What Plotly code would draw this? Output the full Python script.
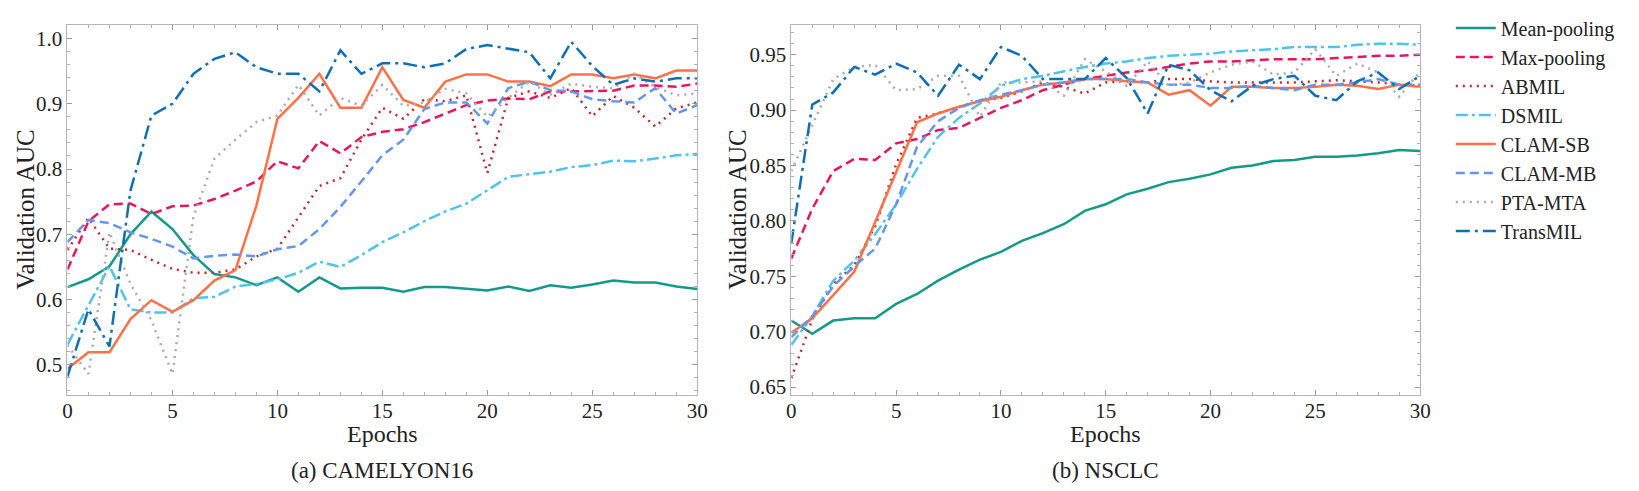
import plotly.graph_objects as go

epochs = list(range(31))

methods = ["Mean-pooling", "Max-pooling", "ABMIL", "DSMIL", "CLAM-SB", "CLAM-MB", "PTA-MTA", "TransMIL"]

# CAMELYON16 validation AUC
cam_mean = [0.619, 0.631, 0.651, 0.700, 0.735, 0.708, 0.668, 0.639, 0.634, 0.622, 0.634, 0.612, 0.634, 0.617, 0.618, 0.618,
            0.612, 0.619, 0.619, 0.616, 0.614, 0.620, 0.613, 0.622, 0.618, 0.623, 0.629, 0.626, 0.626, 0.620, 0.616]
cam_max = [0.646, 0.720, 0.746, 0.747, 0.731, 0.743, 0.744, 0.754, 0.767, 0.781, 0.812, 0.801, 0.843, 0.824, 0.849, 0.857,
           0.861, 0.872, 0.885, 0.898, 0.905, 0.908, 0.907, 0.919, 0.919, 0.920, 0.920, 0.928, 0.928, 0.926, 0.931]
cam_abmil = [0.676, 0.725, 0.678, 0.676, 0.661, 0.647, 0.641, 0.641, 0.646, 0.666, 0.678, 0.727, 0.774, 0.786, 0.845, 0.894,
             0.877, 0.907, 0.904, 0.913, 0.794, 0.909, 0.919, 0.909, 0.924, 0.881, 0.912, 0.894, 0.865, 0.893, 0.902]
cam_dsmil = [0.531, 0.590, 0.651, 0.585, 0.580, 0.580, 0.602, 0.604, 0.620, 0.624, 0.631, 0.641, 0.658, 0.650, 0.668, 0.688,
             0.703, 0.720, 0.735, 0.747, 0.768, 0.788, 0.792, 0.796, 0.803, 0.806, 0.813, 0.812, 0.816, 0.821, 0.823]
cam_clamsb = [0.494, 0.519, 0.519, 0.570, 0.599, 0.581, 0.599, 0.629, 0.645, 0.744, 0.877, 0.909, 0.946, 0.894, 0.894, 0.956,
              0.906, 0.894, 0.934, 0.945, 0.945, 0.934, 0.934, 0.927, 0.945, 0.945, 0.939, 0.945, 0.939, 0.951, 0.951]
cam_clammb = [0.688, 0.722, 0.717, 0.703, 0.693, 0.681, 0.663, 0.667, 0.669, 0.666, 0.677, 0.682, 0.708, 0.742, 0.781, 0.821,
              0.845, 0.892, 0.902, 0.902, 0.870, 0.924, 0.934, 0.921, 0.919, 0.907, 0.904, 0.902, 0.924, 0.885, 0.898]
cam_ptamta = [0.530, 0.486, 0.703, 0.624, 0.568, 0.486, 0.727, 0.816, 0.845, 0.872, 0.882, 0.929, 0.882, 0.909, 0.897, 0.929,
              0.897, 0.902, 0.923, 0.916, 0.880, 0.909, 0.934, 0.914, 0.931, 0.926, 0.924, 0.946, 0.926, 0.913, 0.916]
cam_transmil = [0.482, 0.585, 0.528, 0.767, 0.882, 0.900, 0.946, 0.969, 0.979, 0.956, 0.946, 0.946, 0.919, 0.982, 0.946, 0.962,
                0.962, 0.956, 0.962, 0.984, 0.990, 0.984, 0.979, 0.939, 0.995, 0.958, 0.929, 0.939, 0.934, 0.939, 0.939]

# NSCLC validation AUC
nsc_mean = [0.710, 0.698, 0.710, 0.712, 0.712, 0.725, 0.734, 0.746, 0.756, 0.765, 0.772, 0.782, 0.789, 0.797, 0.809, 0.815,
            0.824, 0.829, 0.835, 0.838, 0.842, 0.848, 0.850, 0.854, 0.855, 0.858, 0.858, 0.859, 0.861, 0.864, 0.863]
nsc_max = [0.766, 0.811, 0.845, 0.856, 0.855, 0.870, 0.874, 0.882, 0.884, 0.893, 0.902, 0.909, 0.918, 0.923, 0.928, 0.931,
           0.934, 0.936, 0.939, 0.942, 0.944, 0.944, 0.945, 0.946, 0.946, 0.946, 0.947, 0.948, 0.949, 0.949, 0.950]
nsc_abmil = [0.658, 0.711, 0.743, 0.760, 0.795, 0.851, 0.893, 0.897, 0.903, 0.908, 0.911, 0.917, 0.925, 0.921, 0.915, 0.925,
             0.926, 0.925, 0.928, 0.928, 0.926, 0.925, 0.925, 0.925, 0.925, 0.926, 0.927, 0.926, 0.925, 0.923, 0.922]
nsc_dsmil = [0.688, 0.714, 0.746, 0.764, 0.788, 0.815, 0.847, 0.876, 0.893, 0.906, 0.922, 0.928, 0.931, 0.935, 0.939, 0.942,
             0.944, 0.947, 0.949, 0.950, 0.951, 0.953, 0.954, 0.955, 0.957, 0.957, 0.957, 0.959, 0.960, 0.960, 0.959]
nsc_clamsb = [0.699, 0.712, 0.733, 0.754, 0.799, 0.844, 0.889, 0.897, 0.903, 0.908, 0.912, 0.918, 0.923, 0.925, 0.928, 0.928,
              0.926, 0.925, 0.914, 0.918, 0.904, 0.921, 0.921, 0.920, 0.920, 0.921, 0.923, 0.922, 0.919, 0.923, 0.921]
nsc_clammb = [0.695, 0.714, 0.741, 0.759, 0.775, 0.815, 0.867, 0.890, 0.902, 0.909, 0.914, 0.918, 0.923, 0.925, 0.928, 0.928,
              0.928, 0.925, 0.923, 0.923, 0.920, 0.920, 0.922, 0.920, 0.918, 0.923, 0.923, 0.925, 0.928, 0.923, 0.923]
nsc_ptamta = [0.845, 0.887, 0.928, 0.939, 0.941, 0.918, 0.919, 0.931, 0.931, 0.894, 0.925, 0.925, 0.926, 0.913, 0.946, 0.935,
              0.922, 0.944, 0.922, 0.925, 0.934, 0.941, 0.944, 0.932, 0.934, 0.955, 0.931, 0.942, 0.934, 0.912, 0.935]
nsc_transmil = [0.780, 0.905, 0.916, 0.939, 0.932, 0.942, 0.934, 0.913, 0.941, 0.928, 0.957, 0.949, 0.928, 0.928, 0.928, 0.947,
                0.929, 0.897, 0.941, 0.936, 0.918, 0.908, 0.922, 0.928, 0.931, 0.913, 0.909, 0.926, 0.934, 0.919, 0.931]

cam_data = [cam_mean, cam_max, cam_abmil, cam_dsmil, cam_clamsb, cam_clammb, cam_ptamta, cam_transmil]
nsc_data = [nsc_mean, nsc_max, nsc_abmil, nsc_dsmil, nsc_clamsb, nsc_clammb, nsc_ptamta, nsc_transmil]

colors = ["#14998a", "#e8175d", "#c0282c", "#4fc3f0", "#ff7047", "#6496f0", "#aaaaaa", "#0f6fb3"]
dashes = ["solid", "9px,5px", "2px,5px", "12px,4px,3px,4px", "solid", "9px,5px", "2px,5px", "14px,5px,3px,5px"]

FONT = "Liberation Serif"

fig = go.Figure()

for i, name in enumerate(methods):
    fig.add_trace(go.Scatter(x=epochs, y=cam_data[i], mode="lines", name=name, legendgroup=name,
                             line=dict(color=colors[i], dash=dashes[i], width=2.5),
                             xaxis="x", yaxis="y"))
    fig.add_trace(go.Scatter(x=epochs, y=nsc_data[i], mode="lines", name=name, legendgroup=name,
                             showlegend=False, line=dict(color=colors[i], dash=dashes[i], width=2.5),
                             xaxis="x2", yaxis="y2"))

W, H = 1639, 491

axis_style = dict(showline=True, mirror="allticks", linecolor="#b5b5b5", linewidth=1,
                  ticks="inside", ticklen=5, tickcolor="#9a9a9a", showgrid=False, zeroline=False,
                  tickfont=dict(family=FONT, size=21, color="#222"))
xminor = dict(dtick=1, ticks="inside", ticklen=3, tickcolor="#b0b0b0")

fig.update_layout(
    width=W, height=H,
    margin=dict(l=0, r=0, t=0, b=0),
    paper_bgcolor="white", plot_bgcolor="white",
    font=dict(family=FONT, color="#222"),
    xaxis=dict(domain=[55 / W, 691 / W], range=[0, 30], dtick=5, anchor="y", ticklabelstandoff=-3,
               minor=xminor, **axis_style),
    yaxis=dict(domain=[1 - 388 / H, 1 - 4 / H], range=[0.454, 1.021], tickvals=[0.5, 0.6, 0.7, 0.8, 0.9, 1.0],
               tickformat=".1f", anchor="x",
               minor=dict(dtick=0.02, ticks="inside", ticklen=3, tickcolor="#b0b0b0"), **axis_style),
    xaxis2=dict(domain=[786 / W, 1421 / W], range=[0, 30], dtick=5, anchor="y2", ticklabelstandoff=-3,
                minor=xminor, **axis_style),
    yaxis2=dict(domain=[1 - 388 / H, 1 - 4 / H], range=[0.643, 0.977],
                tickvals=[0.65, 0.70, 0.75, 0.80, 0.85, 0.90, 0.95], tickformat=".2f", anchor="x2",
                minor=dict(dtick=0.01, ticks="inside", ticklen=3, tickcolor="#b0b0b0"), **axis_style),
    legend=dict(x=1452 / W, y=1 + 13 / H, xanchor="left", yanchor="top",
                font=dict(family=FONT, size=20, color="#222"), itemwidth=40,
                bgcolor="rgba(0,0,0,0)", tracegroupgap=0),
)

annots = [
    dict(text="Validation AUC", x=13 / W, y=1 - 196 / H, textangle=-90, size=25),
    dict(text="Validation AUC", x=732 / W, y=1 - 196 / H, textangle=-90, size=25),
    dict(text="Epochs", x=373 / W, y=1 - 429 / H, textangle=0, size=24),
    dict(text="Epochs", x=1103 / W, y=1 - 429 / H, textangle=0, size=24),
    dict(text="(a) CAMELYON16", x=373 / W, y=1 - 467 / H, textangle=0, size=23),
    dict(text="(b) NSCLC", x=1103 / W, y=1 - 467 / H, textangle=0, size=23),
]
for a in annots:
    fig.add_annotation(text=a["text"], x=a["x"], y=a["y"], xref="paper", yref="paper",
                       xanchor="center", yanchor="middle", textangle=a["textangle"], showarrow=False,
                       font=dict(family=FONT, size=a["size"], color="#222"))

fig.write_html("out.html")
